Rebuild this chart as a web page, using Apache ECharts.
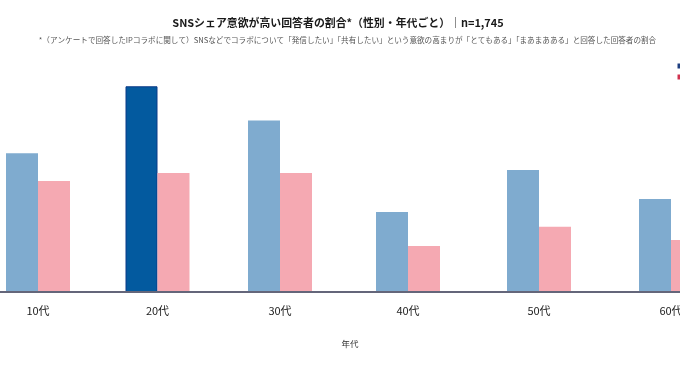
<!DOCTYPE html>
<html><head><meta charset="utf-8">
<style>html,body{margin:0;padding:0;background:#fff}#c{width:680px;height:382px}</style>
<script src="https://cdn.jsdelivr.net/npm/echarts@6/dist/echarts.min.js"></script>
</head><body><div id="c"></div>
<script>
const ages = ['10代','20代','30代','40代','50代','60代'];
const male = [40.5,60,50,23.3,35.6,27.1];
const female = [32.4,34.7,34.7,13.4,19,15.2];
const seriesNames = ['男性','女性'];
const highlightedAge = '20代';
const titleText = 'SNSシェア意欲が高い回答者の割合*（性別・年代ごと）｜n=1,745';
const noteText = '*（アンケートで回答したIPコラボに関して）SNSなどでコラボについて「発信したい」「共有したい」という意欲の高まりが「とてもある」「まあまあある」と回答した回答者の割合';
const axisTitle = '年代';

// Layout only: the reference spaces its age groups slightly unevenly, so each group gets its own panel.
const panelCenters = [38,157.5,280,408,539,671];
const panelWidth = 140;
const font = '"Noto Sans CJK JP","Noto Sans",sans-serif';

const grids = ages.map((_,i)=>({left:panelCenters[i]-panelWidth/2,width:panelWidth,top:52,height:240,outerBoundsMode:'none',containLabel:false}));
const xAxes = ages.map((age,i)=>({type:'category',gridIndex:i,data:[age],z:5,axisTick:{show:false},
  axisLine:{lineStyle:{color:'#64667a',width:2}},
  axisLabel:{margin:13,fontFamily:font,fontSize:11,color:'#222'}}));
const yAxes = ages.map((_,i)=>({type:'value',gridIndex:i,min:0,max:70,show:false}));
const series = ages.flatMap((age,i)=>[
  {name:seriesNames[0],type:'bar',xAxisIndex:i,yAxisIndex:i,barWidth:32,barGap:'0%',
   itemStyle:age===highlightedAge?{color:'#035a9f',borderColor:'#0b3a88',borderWidth:1}:{color:'#7fabcf'},data:[male[i]]},
  {name:seriesNames[1],type:'bar',xAxisIndex:i,yAxisIndex:i,barWidth:32,
   itemStyle:{color:'#f5a9b2'},data:[female[i]]}
]);

const chart = echarts.init(document.getElementById('c'), null, {renderer:'canvas'});
chart.setOption({
  animation:false,
  backgroundColor:'#fff',
  title:[
    {text:titleText,left:333,top:12,textAlign:'center',textStyle:{fontFamily:font,fontSize:10.9,fontWeight:'bold',color:'#1a1a1a'}},
    {text:noteText,left:342.5,top:31,textAlign:'center',textStyle:{fontFamily:font,fontSize:7.6,fontWeight:'normal',color:'#555'}},
    {text:axisTitle,left:345,top:335,textAlign:'center',textStyle:{fontFamily:font,fontSize:8.5,fontWeight:'normal',color:'#333'}}
  ],
  legend:{left:677.5,top:63.5,padding:0,orient:'vertical',itemWidth:8,itemHeight:5,itemGap:6,icon:'rect',
    data:[{name:seriesNames[0],itemStyle:{color:'#1f3f80',borderWidth:0}},{name:seriesNames[1],itemStyle:{color:'#d0324f',borderWidth:0}}],
    textStyle:{fontFamily:font,fontSize:4}},
  grid:grids, xAxis:xAxes, yAxis:yAxes, series:series
});
</script></body></html>
